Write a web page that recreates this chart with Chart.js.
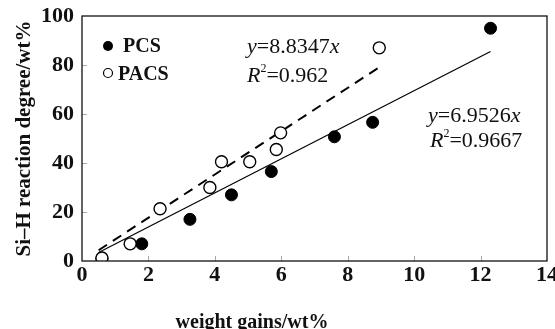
<!DOCTYPE html>
<html>
<head>
<meta charset="utf-8">
<script src="https://cdn.jsdelivr.net/npm/chart.js@4.4.1/dist/chart.umd.min.js"></script>
<style>
  html, body { margin: 0; padding: 0; background: #fff; overflow: hidden; }
  #wrap { width: 555px; height: 329px; overflow: hidden; }
</style>
</head>
<body>
<div id="wrap"><canvas id="plot" width="559" height="329"></canvas></div>
<script>
// values
var pcsX = [0.6, 1.8, 3.25, 4.5, 5.7, 7.6, 8.75, 12.3];
var pcsY = [1, 7, 17, 27, 36.5, 50.7, 56.6, 95];
var pacsX = [0.6, 1.45, 2.35, 3.85, 4.2, 5.05, 5.85, 5.98, 8.95];
var pacsY = [1.2, 7, 21.3, 30, 40.5, 40.5, 45.5, 52.3, 87];
// fitted lines (end points)
var pcsFitX = [0.5, 12.3];
var pcsFitY = [3.5, 85.5];
var pacsFitX = [0.5, 9.0];
var pacsFitY = [4.4, 79.5];

var xTicks = [0, 2, 4, 6, 8, 10, 12, 14];
var yTicks = [0, 20, 40, 60, 80, 100];

function pts(xs, ys) {
    var out = [];
    for (var i = 0; i < xs.length; i++) out.push({x: xs[i], y: ys[i]});
    return out;
}

var serif = "'Liberation Serif', 'DejaVu Serif', serif";

// frame, inward ticks, legend, equations, x title
var extras = {
    id: 'extras',
    afterDatasetsDraw: function (chart) {
        var c = chart.ctx, a = chart.chartArea;
        var xs = chart.scales.x, ys = chart.scales.y;
        c.save();
        c.strokeStyle = '#aaa';
        c.lineWidth = 1;
        xTicks.forEach(function (v) {
            if (v == 0 || v == 14) return;
            var px = Math.round(xs.getPixelForValue(v)) + 0.5;
            c.beginPath(); c.moveTo(px, a.bottom); c.lineTo(px, a.bottom - 5); c.stroke();
        });
        yTicks.forEach(function (v) {
            if (v == 0 || v == 100) return;
            var py = Math.round(ys.getPixelForValue(v)) + 0.5;
            c.beginPath(); c.moveTo(a.left, py); c.lineTo(a.left + 5, py); c.stroke();
        });
        c.strokeStyle = '#111';
        c.lineWidth = 1.3;
        c.strokeRect(a.left, a.top, a.right - a.left, a.bottom - a.top);

        // legend
        c.fillStyle = '#000';
        c.beginPath(); c.arc(108, 46, 5, 0, Math.PI * 2); c.fill();
        c.beginPath(); c.arc(108, 73, 4.5, 0, Math.PI * 2);
        c.fillStyle = '#fff'; c.fill();
        c.lineWidth = 1.2; c.strokeStyle = '#000'; c.stroke();
        c.fillStyle = '#111';
        c.font = 'bold 20px ' + serif;
        c.textBaseline = 'middle';
        c.textAlign = 'left';
        c.fillText('PCS', 123, 47);
        c.fillText('PACS', 118, 75);

        // equations
        function eq(x, y, it, rest, sup) {
            c.font = 'italic 22px ' + serif;
            c.fillText(it, x, y);
            var w = c.measureText(it).width;
            if (sup) {
                c.font = '12px ' + serif;
                c.fillText('2', x + w, y - 7);
                w += c.measureText('2').width;
            }
            c.font = '22px ' + serif;
            var parts = rest.split('x');
            c.fillText(parts[0], x + w, y);
            w += c.measureText(parts[0]).width;
            if (parts.length > 1) {
                c.font = 'italic 22px ' + serif;
                c.fillText('x', x + w, y);
            }
        }
        eq(247, 47, 'y', '=8.8347x', false);
        eq(247, 76, 'R', '=0.962', true);
        eq(428, 116, 'y', '=6.9526x', false);
        eq(430, 141, 'R', '=0.9667', true);

        // x axis title (sits left of centre in the original)
        c.font = 'bold 20px ' + serif;
        c.textAlign = 'center';
        c.fillText('weight gains/wt%', 252, 323);
        c.restore();
    }
};

var ctx = document.getElementById('plot').getContext('2d');
var myChart = new Chart(ctx, {
    type: 'scatter',
    data: {
        datasets: [{
            label: 'PCS',
            data: pts(pcsX, pcsY),
            backgroundColor: '#000',
            borderColor: '#000',
            pointRadius: 6,
            order: 2
        }, {
            label: 'PACS',
            data: pts(pacsX, pacsY),
            backgroundColor: '#fff',
            borderColor: '#000',
            borderWidth: 1.4,
            pointRadius: 6,
            order: 1
        }, {
            label: 'PCS fit',
            type: 'line',
            data: pts(pcsFitX, pcsFitY),
            borderColor: '#000',
            borderWidth: 1.2,
            pointRadius: 0,
            fill: false,
            order: 3
        }, {
            label: 'PACS fit',
            type: 'line',
            data: pts(pacsFitX, pacsFitY),
            borderColor: '#000',
            borderWidth: 2,
            borderDash: [10, 7],
            pointRadius: 0,
            fill: false,
            order: 3
        }]
    },
    options: {
        responsive: false,
        animation: false,
        layout: { padding: { top: 16, right: 0, left: 0, bottom: 0 } },
        plugins: { legend: { display: false }, tooltip: { enabled: false } },
        scales: {
            x: {
                type: 'linear',
                min: 0, max: 14,
                afterBuildTicks: function (s) { s.ticks = xTicks.map(function (v) { return {value: v}; }); },
                afterFit: function (s) { s.height = 68; },
                grid: { display: false, drawTicks: false },
                border: { display: false },
                ticks: { color: '#111', padding: 1, font: { family: serif, size: 22, weight: 'bold' } }
            },
            y: {
                type: 'linear',
                min: 0, max: 100,
                afterBuildTicks: function (s) { s.ticks = yTicks.map(function (v) { return {value: v}; }); },
                afterFit: function (s) { s.width = 82; s.paddingTop = 0; s.paddingBottom = 0; },
                grid: { display: false, drawTicks: false },
                border: { display: false },
                ticks: { color: '#111', padding: 8, font: { family: serif, size: 22, weight: 'bold', lineHeight: 0.5 } },
                title: { display: true, text: 'Si\u2013H reaction degree/wt%', color: '#111', padding: { top: 12, bottom: 0 },
                         font: { family: serif, size: 21, weight: 'bold' } }
            }
        }
    },
    plugins: [extras]
});
</script>
</body>
</html>
